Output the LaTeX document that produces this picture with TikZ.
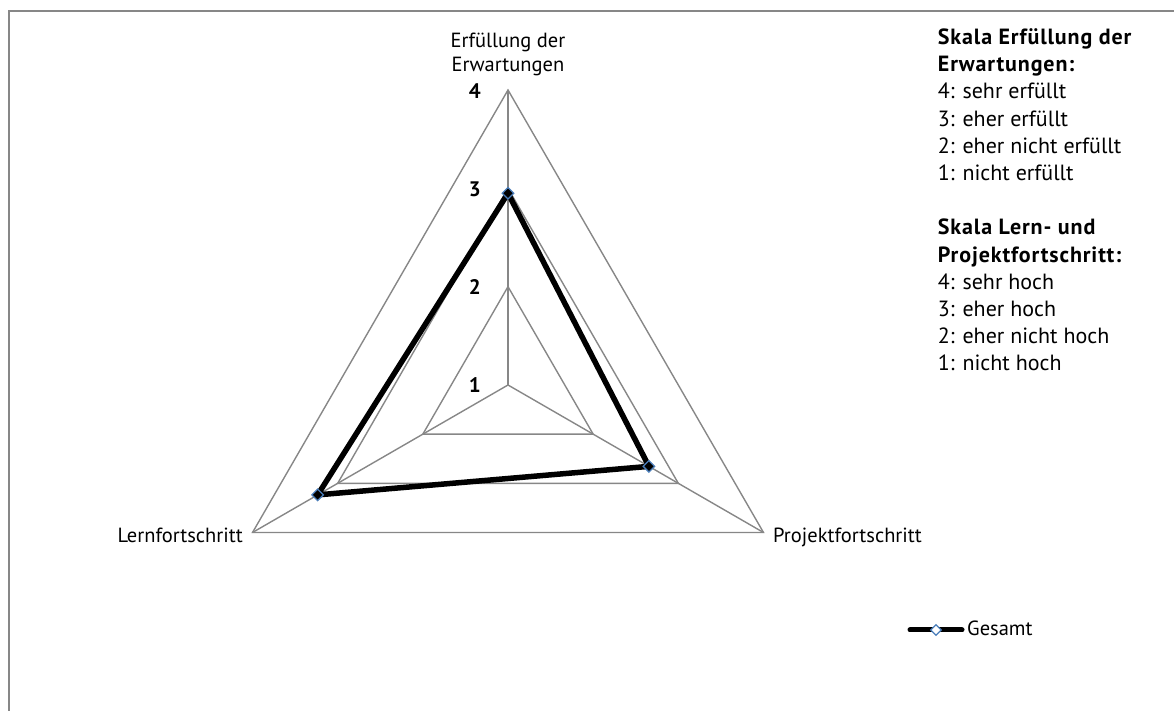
\documentclass[tikz,border=0pt]{standalone}
\usepackage{fontspec}
\setmainfont{PT Sans}
\usetikzlibrary{calc,shapes.geometric}
\definecolor{gridgray}{HTML}{878787}
\definecolor{markerblue}{HTML}{4A7EBB}
\newcommand{\scalehead}[1]{{\bfseries\addfontfeatures{LetterSpace=4}#1}}
\begin{document}
\begin{tikzpicture}[x=1pt,y=1pt,
  gridline/.style={draw=gridgray,line width=1.4pt,line join=miter},
  frameline/.style={draw=gridgray,line width=2pt},
  dataline/.style={draw=black,line width=5.5pt,line join=round},
  marker/.style={diamond,draw=markerblue,fill=black,line width=1.3pt,
    minimum width=12pt,minimum height=12pt,inner sep=0pt},
  legendmarker/.style={diamond,draw=markerblue,fill=white,line width=1.3pt,
    minimum width=11pt,minimum height=11pt,inner sep=0pt},
  axislabel/.style={inner sep=0pt,font=\fontsize{20.5}{23.4}\selectfont},
  levelnum/.style={inner sep=0pt,font=\fontsize{21}{24}\selectfont\bfseries},
  scaletext/.style={inner sep=0pt,align=left,font=\fontsize{22}{27.2}\selectfont}
]
\useasboundingbox (0,0) rectangle (1174,711);

% chart frame (top and left edges)
\draw[frameline] (9,0) -- (9,699.5) coordinate (frameTL) -- (1174,699.5);

% radar grid: level 1 is the centre, one step is 98.33
\coordinate (C) at (508,326);
\foreach \lvl in {2,3,4}{
  \coordinate (T\lvl) at ($(C)+(90:{(\lvl-1)*98.33})$);
  \coordinate (L\lvl) at ($(C)+(210:{(\lvl-1)*98.33})$);
  \coordinate (R\lvl) at ($(C)+(330:{(\lvl-1)*98.33})$);
  \draw[gridline] (T\lvl) -- (R\lvl) -- (L\lvl) -- cycle;
}
\draw[gridline] (C) -- (T4);
\draw[gridline] (C) -- (L4);
\draw[gridline] (C) -- (R4);

% level numbers on the vertical axis
\node[levelnum,anchor=base east] (n1) at (481,{711-393}) {1};
\node[levelnum,anchor=base east] (n2) at (481,{711-295}) {2};
\node[levelnum,anchor=base east] (n3) at (481,{711-196.5}) {3};
\node[levelnum,anchor=base east] (n4) at (481,{711-98.5}) {4};

% axis names
\node[axislabel,align=center,anchor=north] (axE) at (508,{711-33.3}) {Erfüllung der\\Erwartungen};
\node[axislabel,anchor=base east] (axL) at (243,{711-543}) {Lernfortschritt};
\node[axislabel,anchor=base west] (axP) at (773,{711-543}) {Projektfortschritt};

% data series "Gesamt"
\coordinate (dE) at ($(C)+(90:{1.95*98.33})$);
\coordinate (dL) at ($(C)+(210:{2.235*98.33})$);
\coordinate (dP) at ($(C)+(330:{1.655*98.33})$);
\draw[dataline] (dE) -- (dP) -- (dL) -- cycle;
\node[marker] (mE) at (dE) {};
\node[marker] (mL) at (dL) {};
\node[marker] (mP) at (dP) {};

% scale explanation
\node[scaletext,anchor=north west] (scale) at (937.7,{711-28.5}) {%
\scalehead{Skala Erfüllung der}\\
\scalehead{Erwartungen:}\\
4: sehr erfüllt\\
3: eher erfüllt\\
2: eher nicht erfüllt\\
1: nicht erfüllt\\[27.2pt]
\scalehead{Skala Lern- und}\\
\scalehead{Projektfortschritt:}\\
4: sehr hoch\\
3: eher hoch\\
2: eher nicht hoch\\
1: nicht hoch};

% legend
\coordinate (legA) at (910,{711-630});
\coordinate (legB) at (962,{711-630});
\draw[black,line width=5pt,line cap=round] (legA) -- (legB);
\node[legendmarker] (legM) at ($(legA)!0.5!(legB)$) {};
\node[axislabel,anchor=base west] (legT) at (967,{711-635.5}) {Gesamt};
\end{tikzpicture}
\end{document}
